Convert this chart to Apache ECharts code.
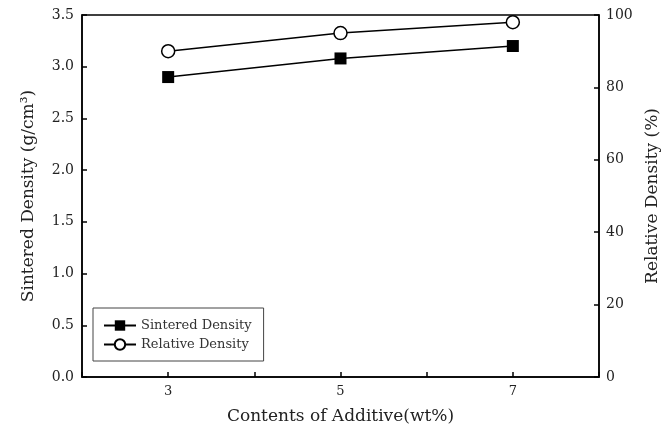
<!DOCTYPE html>
<html>
<head>
<meta charset="utf-8">
<script src="https://cdn.jsdelivr.net/npm/echarts@6/dist/echarts.min.js"></script>
<style>
  html, body { margin: 0; padding: 0; background: #fff; }
  #chart { width: 662px; height: 429px; }
</style>
</head>
<body>
<div id="chart"></div>
<script>
const additive = [3, 5, 7]; // wt%
const sinteredDensity = [2.9, 3.08, 3.2]; // g/cm3
const relativeDensity = [90, 95, 98]; // %
const xLabels = [3, 5, 7];

const font = 'DejaVu Serif';
const chart = echarts.init(document.getElementById('chart'));

const option = {
  animation: false,
  textStyle: { fontFamily: font, color: '#222' },
  grid: {
    left: 82,
    right: 63,
    top: 15,
    bottom: 52,
    outerBoundsMode: 'none',
    containLabel: false,
    show: true,
    borderColor: '#000',
    borderWidth: 1.5
  },
  legend: {
    orient: 'vertical',
    left: 93,
    top: 308,
    width: 175,
    padding: [11, 12, 10, 10],
    itemGap: 6,
    itemWidth: 32,
    itemHeight: 13,
    borderColor: '#444',
    borderWidth: 1,
    textStyle: { fontFamily: font, fontSize: 13, color: '#333' },
    data: ['Sintered Density', 'Relative Density']
  },
  xAxis: {
    type: 'value',
    min: 2,
    max: 8,
    interval: 1,
    name: 'Contents of Additive(wt%)',
    nameLocation: 'middle',
    nameGap: 31,
    nameTextStyle: { fontFamily: font, fontSize: 17, color: '#222' },
    axisLine: { lineStyle: { color: '#000', width: 1.5 } },
    axisTick: { inside: true, length: 5, lineStyle: { color: '#000', width: 1.5 } },
    axisLabel: {
      margin: 8,
      fontSize: 13,
      color: '#222',
      formatter: v => (xLabels.indexOf(v) >= 0 ? String(v) : '')
    },
    splitLine: { show: false }
  },
  yAxis: [
    {
      type: 'value',
      min: 0,
      max: 3.5,
      interval: 0.5,
      name: 'Sintered Density (g/cm³)',
      nameLocation: 'middle',
      nameRotate: 90,
      nameGap: 45,
      nameTextStyle: { fontFamily: font, fontSize: 17, color: '#222' },
      axisLine: { show: true, lineStyle: { color: '#000', width: 1.5 } },
      axisTick: { show: true, inside: true, length: 5, lineStyle: { color: '#000', width: 1.5 } },
      axisLabel: { margin: 8, fontSize: 14, color: '#222', formatter: v => v.toFixed(1) },
      splitLine: { show: false }
    },
    {
      type: 'value',
      position: 'right',
      min: 0,
      max: 100,
      interval: 20,
      name: 'Relative Density (%)',
      nameLocation: 'middle',
      nameRotate: 90,
      nameGap: 42,
      nameTextStyle: { fontFamily: font, fontSize: 17, color: '#222' },
      axisLine: { show: true, lineStyle: { color: '#000', width: 1.5 } },
      axisTick: { show: true, inside: true, length: 5, lineStyle: { color: '#000', width: 1.5 } },
      axisLabel: { margin: 7, fontSize: 14, color: '#222' },
      splitLine: { show: false }
    }
  ],
  series: [
    {
      name: 'Sintered Density',
      type: 'line',
      yAxisIndex: 0,
      symbol: 'rect',
      symbolSize: 12,
      itemStyle: { color: '#000' },
      lineStyle: { color: '#000', width: 1.5 },
      data: additive.map((x, i) => [x, sinteredDensity[i]])
    },
    {
      name: 'Relative Density',
      type: 'line',
      yAxisIndex: 1,
      symbol: 'circle',
      symbolSize: 13,
      itemStyle: { color: '#fff', borderColor: '#000', borderWidth: 1.5 },
      lineStyle: { color: '#000', width: 1.5 },
      data: additive.map((x, i) => [x, relativeDensity[i]])
    }
  ]
};

chart.setOption(option);
</script>
</body>
</html>
